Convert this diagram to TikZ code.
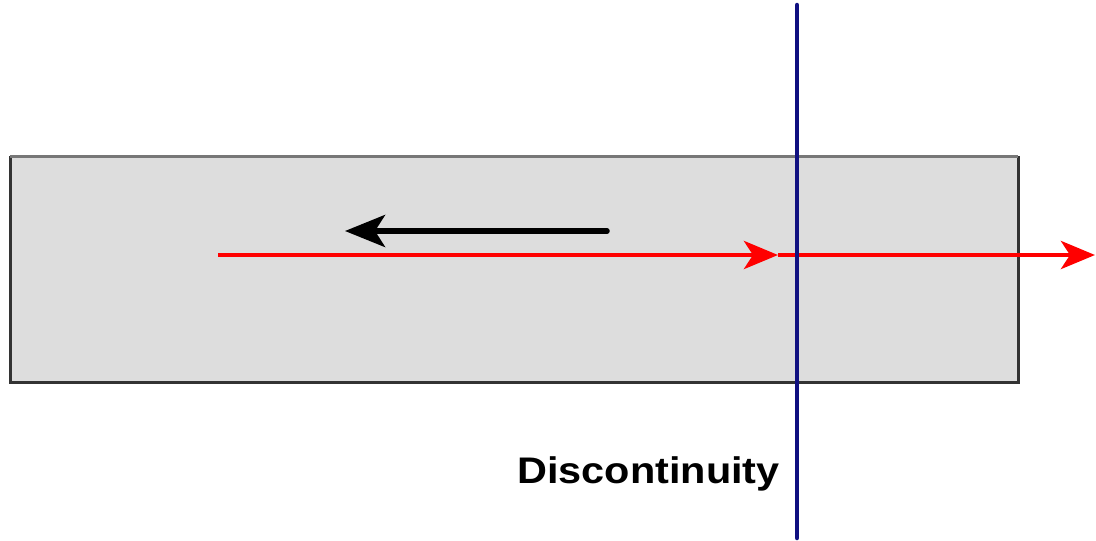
\documentclass[tikz,border=0pt]{standalone}
\usepackage{fontspec}
\setmainfont{Liberation Sans}
\usetikzlibrary{arrows.meta}
\definecolor{boxfill}{HTML}{DDDDDD}
\definecolor{boxedge}{HTML}{333333}
\definecolor{topedge}{HTML}{777777}
\definecolor{discblue}{HTML}{101080}
\tikzset{
  redray/.style={draw=red, line width=4.8pt, -{Stealth[length=34pt,width=28pt,inset=9pt]}},
  blackray/.style={draw=black, line width=5.5pt, -{Stealth[length=40pt,width=32pt,inset=10pt]}},
  discline/.style={draw=discblue, line width=4.5pt},
  lbl/.style={font=\bfseries\fontsize{37}{40}\selectfont, inner sep=0pt}
}
\begin{document}
\begin{tikzpicture}[x=1pt,y=-1pt]
\useasboundingbox (0,0) rectangle (1096,541);
\coordinate (bl) at (10,382);
\coordinate (tr) at (1018,156);
\coordinate (tl) at (10,156);
\fill[boxfill] (bl) rectangle (tr);
\draw[boxedge, line width=3pt] (tl) -- (bl) -- (1018,382) -- (tr);
\draw[topedge, line width=3pt] (tl) -- (tr);
\coordinate (bstart) at (607,231);
\coordinate (bend) at (345,231);
\draw[blackray, line cap=round] (bstart) -- (bend);
\coordinate (rstart) at (218,255);
\coordinate (rmid) at (778,255);
\coordinate (rend) at (1095,255);
\draw[redray] (rstart) -- (rmid);
\draw[redray] (rmid) -- (rend);
\coordinate (dtop) at (797,5);
\coordinate (dbot) at (797,538);
\draw[discline, line cap=round] (dtop) -- (dbot);
\node[lbl, anchor=base east, xscale=1.12] (disc) at (780,483) {Discontinuity};
\end{tikzpicture}
\end{document}
